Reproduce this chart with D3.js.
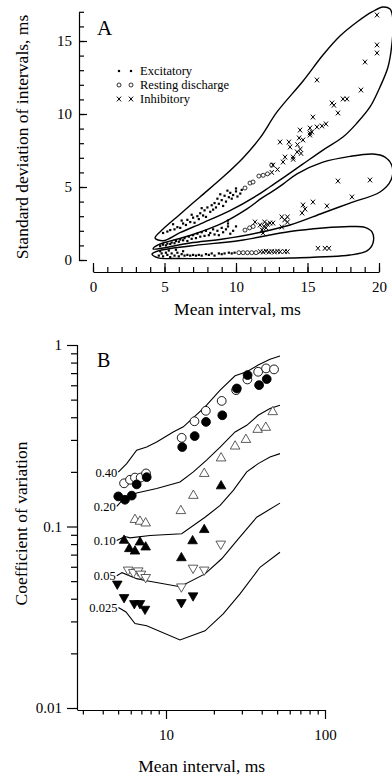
<!DOCTYPE html>
<html><head><meta charset="utf-8">
<script src="https://cdn.jsdelivr.net/npm/d3@7"></script>
<style>
html,body{margin:0;padding:0;background:#fff;}
svg{display:block;}
text{font-family:"Liberation Serif","Times New Roman",serif;fill:#000;}
</style></head><body>
<svg id="chart" width="392" height="781"></svg>
<script>
// ---------- Panel A data (mean interval ms, SD ms) ----------
const xTicksA = [0, 5, 10, 15, 20];
const yTicksA = [0, 5, 10, 15];
const legendLabels = ["Excitatory", "Resting discharge", "Inhibitory"];

const envelope1 = [[4.34,1.51],[4.90,2.12],[5.87,2.95],[7.48,4.32],[9.09,5.68],[10.49,6.99],[11.68,8.36],[12.87,10.14],[14.69,12.26],[16.08,14.04],[17.27,15.34],[18.46,16.30],[19.51,16.99],[20.28,17.33],[20.77,17.19],[20.98,16.44],[20.91,14.86],[20.63,13.22],[20.07,11.85],[19.37,10.48],[18.46,9.38],[17.48,8.42],[16.08,7.53],[14.69,6.58],[13.29,5.62],[12.38,5.02],[11.47,4.42],[9.58,3.38],[7.69,2.55],[6.08,1.87],[4.90,1.32]];
const envelope2 = [[4.20,0.75],[4.55,1.03],[6.78,1.68],[9.09,2.55],[10.77,3.50],[11.82,4.25],[12.52,4.68],[13.29,5.20],[14.27,5.90],[16.08,6.70],[17.97,7.10],[19.58,7.26],[20.42,7.05],[20.91,6.44],[20.84,5.48],[20.07,4.66],[17.97,3.90],[16.08,3.22],[13.78,2.40],[11.47,1.85],[9.09,1.44],[6.78,1.16],[4.90,0.82]];
const envelope3 = [[4.13,0.41],[4.55,0.62],[6.78,0.96],[10.28,1.34],[13.78,1.95],[16.08,2.19],[17.97,2.29],[19.02,2.24],[19.51,1.92],[19.58,1.16],[19.16,0.62],[17.97,0.34],[13.78,0.14],[9.09,0.10],[5.59,0.10],[4.55,0.14]];

const excitatory = [
 [4.9,1.85],[5.2,1.95],[5.4,2.05],[5.7,2.1],[5.9,2.25],[6.1,2.2],[6.3,2.5],[6.5,2.4],[6.6,2.75],[6.8,2.6],[7.0,2.9],[7.1,2.55],[7.3,3.0],[7.4,2.8],[7.5,3.2],[7.7,3.05],[7.8,3.4],[7.9,2.95],[8.0,3.6],[8.2,3.3],[8.3,3.75],[8.4,3.45],[8.5,3.9],[8.6,3.6],[8.7,4.2],[8.8,3.85],[9.0,4.1],[9.1,3.7],[9.2,4.4],[9.3,4.0],[9.5,4.3],[9.6,4.6],[9.7,4.2],[9.8,4.45],[10.0,4.7],[10.1,4.35],[10.3,4.55],[10.4,4.8],[10.0,4.9],[9.4,4.75],[8.9,4.5],[7.6,3.55],[6.9,3.1],[6.2,2.7],[5.6,2.45],
 [4.7,0.95],[4.9,1.05],[5.1,1.0],[5.2,1.12],[5.4,1.1],[5.5,1.2],[5.7,1.15],[5.8,1.3],[6.0,1.25],[6.1,1.4],[6.3,1.35],[6.4,1.5],[6.6,1.3],[6.7,1.6],[6.9,1.45],[7.0,1.7],[7.2,1.5],[7.3,1.8],[7.5,1.6],[7.6,1.9],[7.8,1.65],[7.9,2.0],[8.1,1.7],[8.2,1.85],[8.4,2.1],[8.5,1.75],[8.7,2.0],[8.8,1.7],[9.0,2.2],[9.1,1.9],[9.3,2.1],[9.44,2.3],[9.44,2.5],[9.44,2.7],[9.6,1.8],[9.8,2.0],[10.0,2.3],
 [4.6,0.3],[4.8,0.45],[4.9,0.25],[5.1,0.5],[5.2,0.35],[5.4,0.2],[5.5,0.45],[5.7,0.3],[5.9,0.5],[6.0,0.25],[6.2,0.4],[6.4,0.3],[6.6,0.35],[6.8,0.3],[7.0,0.35],[7.2,0.3],[7.4,0.35],[7.6,0.3],[7.9,0.4],[8.1,0.35],[8.3,0.45],[8.5,0.3],[8.8,0.45],[9.0,0.4],[9.2,0.45],[9.5,0.5],[9.7,0.45],[9.9,0.5],[4.7,0.6],[5.3,0.65],[5.8,0.7],[6.3,0.6]
];
const resting = [
 [10.63,4.93],[10.98,5.27],[11.19,5.34],[11.6,5.75],[11.9,5.8],[12.2,5.9],[12.5,6.5],
 [10.63,2.05],[10.95,2.2],[11.2,2.3],
 [10.2,0.5],[10.5,0.5],[10.8,0.5],[11.1,0.5],[11.4,0.5]
];
const inhibitory = [
 [19.86,16.78],[19.86,14.73],[19.86,14.18],[19.02,13.56],[15.66,12.33],[18.74,11.64],[17.48,11.03],[17.76,11.03],[16.71,10.75],[16.85,10.6],[17.13,10.07],[15.38,9.79],[14.48,8.90],[15.17,9.04],[15.66,9.11],[16.01,9.18],[16.29,9.32],[14.41,8.36],[15.17,8.70],[15.31,8.77],[15.17,8.56],[14.69,8.22],[13.08,8.08],[13.7,8.08],[13.78,7.74],[14.3,7.9],[14.5,7.6],[14.27,7.40],[14.55,7.3],[13.99,7.05],[13.43,7.05],[13.29,6.71],[14.0,6.9],[12.59,6.50],[12.5,6.0],[12.9,6.2],
 [11.33,2.6],[11.68,2.4],[11.82,2.05],[11.95,2.3],[12.1,2.2],[12.2,2.45],[12.38,2.53],[12.59,2.53],[11.89,1.85],[12.0,2.6],[13.2,2.95],[13.6,2.95],[13.6,2.6],[13.2,2.26],[13.4,2.75],[14.69,3.77],[14.83,3.49],[14.62,3.22],[15.38,3.97],[16.36,3.70],[17.13,5.41],[18.11,4.32],[19.37,5.48],
 [11.7,0.57],[11.9,0.55],[12.1,0.6],[12.3,0.55],[12.5,0.58],[12.7,0.55],[12.9,0.6],[13.1,0.57],[13.4,0.58],[13.6,0.57],[15.73,0.8],[16.22,0.8],[16.5,0.8]
];

// ---------- Panel B data (mean interval ms, coefficient of variation) ----------
const xTicksB = [10, 100];
const yTicksB = [0.01, 0.1, 1];
const curveLabelsB = ["0.40", "0.20", "0.10", "0.05", "0.025"];
const curveB040 = [[5.01,0.1995],[5.66,0.222],[6.54,0.263],[7.56,0.274],[8.74,0.292],[11.1,0.332],[12.85,0.354],[14.86,0.398],[17.6,0.456],[21.9,0.564],[27.2,0.677],[32.2,0.712],[38.0,0.775],[45.1,0.834],[52.1,0.87]];
const curveB020 = [[4.9,0.129],[5.37,0.141],[6.54,0.153],[8.74,0.162],[12.25,0.176],[14.86,0.2],[18.0,0.232],[21.9,0.274],[27.2,0.332],[32.2,0.361],[38.0,0.41],[45.1,0.447],[52.1,0.466]];
const curveB010 = [[4.9,0.0837],[5.52,0.088],[5.94,0.0866],[7.93,0.0892],[12.55,0.0912],[17.6,0.1125],[21.9,0.1306],[26.5,0.158],[32.2,0.2],[38.0,0.222],[45.1,0.2415],[52.1,0.252]];
const curveB005 = [[4.9,0.0536],[5.29,0.0557],[6.54,0.0516],[7.56,0.0503],[12.25,0.0466],[17.6,0.0548],[22.4,0.0664],[28.5,0.0855],[37.2,0.1125],[52.1,0.1345]];
const curveB0025 = [[5.02,0.0358],[5.6,0.0338],[6.38,0.0292],[7.56,0.0284],[12.25,0.0237],[17.6,0.0266],[22.9,0.033],[29.2,0.0425],[39.0,0.0596],[52.1,0.0721]];
const curvesB = [curveB040, curveB020, curveB010, curveB005, curveB0025];

const bOpenCircles = [[5.45,0.173],[5.94,0.181],[6.38,0.186],[6.93,0.186],[7.49,0.196],[12.55,0.308],[15.1,0.38],[17.8,0.434],[22.4,0.492],[27.6,0.564],[32.5,0.646],[38.0,0.712],[42.6,0.743],[47.8,0.734]];
const bFilledCircles = [[5.01,0.1465],[5.52,0.1404],[6.09,0.148],[6.54,0.1706],[7.56,0.187],[12.65,0.274],[15.15,0.315],[17.85,0.377],[22.6,0.41],[27.9,0.576],[32.6,0.683],[38.5,0.601],[43.0,0.649]];
const bOpenUp = [[6.38,0.109],[6.86,0.1066],[7.45,0.1043],[12.4,0.122],[14.86,0.148],[17.4,0.1955],[22.2,0.238],[27.2,0.2767],[31.8,0.301],[37.7,0.342],[42.4,0.351],[46.9,0.428]];
const bFilledUp = [[5.45,0.0837],[5.88,0.0753],[6.38,0.073],[6.86,0.0819],[7.45,0.0769],[12.5,0.0671],[14.7,0.0832],[17.4,0.0959],[22.2,0.167]];
const bOpenDown = [[5.78,0.0577],[6.23,0.0559],[6.69,0.0571],[6.96,0.0548],[7.45,0.0525],[12.5,0.0466],[14.8,0.0591],[17.4,0.0577],[22.1,0.0802]];
const bFilledDown = [[4.94,0.0483],[5.45,0.0407],[6.32,0.0377],[6.86,0.0377],[7.38,0.0351],[12.5,0.0382],[14.8,0.0416]];

// ---------- drawing ----------
const svg = d3.select("#chart");
const FONT = '"Liberation Serif","Times New Roman",serif';

function styleAxis(g, size) {
  g.attr("font-family", FONT).attr("font-size", size);
  g.selectAll("path,line").attr("stroke", "#000").attr("stroke-width", 1.2);
}

// ===== Panel A =====
const xA = d3.scaleLinear().domain([0, 20]).range([93, 379]);
const yA = d3.scaleLinear().domain([0, 17]).range([260, 11.8]);
const gA = svg.append("g");

gA.append("g").attr("transform", "translate(0,272)")
  .call(d3.axisBottom(xA).tickValues(d3.range(0, 21, 1)).tickSize(-5).tickSizeOuter(0).tickFormat(""))
  .call(g => styleAxis(g, 15));
gA.append("g").attr("transform", "translate(0,272)")
  .call(d3.axisBottom(xA).tickValues(xTicksA).tickSize(-9).tickPadding(9.5).tickFormat(d3.format("d")))
  .call(g => g.select(".domain").remove())
  .call(g => styleAxis(g, 15));

gA.append("g").attr("transform", "translate(79,0)")
  .call(d3.axisLeft(yA).tickValues(d3.range(0, 18, 1)).tickSize(-5).tickSizeOuter(0).tickFormat(""))
  .call(g => styleAxis(g, 15));
gA.append("g").attr("transform", "translate(79,0)")
  .call(d3.axisLeft(yA).tickValues(yTicksA).tickSize(-8).tickPadding(7).tickFormat(d3.format("d")))
  .call(g => g.select(".domain").remove())
  .call(g => styleAxis(g, 15));

const envLine = d3.line().x(d => xA(d[0])).y(d => yA(d[1])).curve(d3.curveCatmullRomClosed.alpha(0.5));
[envelope1, envelope2, envelope3].forEach(e =>
  gA.append("path").attr("d", envLine(e)).attr("fill", "none").attr("stroke", "#000").attr("stroke-width", 1.4));

const xMark = "M-2.1,-2.4L2.1,2.4M2.1,-2.4L-2.1,2.4";
function drawA(g, type, x, y) {
  if (type === 0) g.append("rect").attr("x", x - 1.1).attr("y", y - 1.1).attr("width", 2.2).attr("height", 2.2).attr("fill", "#000");
  else if (type === 1) g.append("circle").attr("cx", x).attr("cy", y).attr("r", 2).attr("fill", "#fff").attr("stroke", "#000").attr("stroke-width", 0.8);
  else g.append("path").attr("d", xMark).attr("transform", `translate(${x},${y})`).attr("stroke", "#000").attr("stroke-width", 1).attr("fill", "none");
}
const pA = gA.append("g");
excitatory.forEach(d => drawA(pA, 0, xA(d[0]), yA(d[1])));
resting.forEach(d => drawA(pA, 1, xA(d[0]), yA(d[1])));
inhibitory.forEach(d => drawA(pA, 2, xA(d[0]), yA(d[1])));

legendLabels.forEach((lab, i) => {
  const cy = 71 + i * 14;
  drawA(gA, i, 119, cy);
  drawA(gA, i, 131, cy);
  gA.append("text").attr("x", 140).attr("y", cy + 4).attr("font-size", 12.5).text(lab);
});

gA.append("text").attr("x", 97).attr("y", 35).attr("font-size", 21).text("A");
gA.append("text").attr("x", 237.5).attr("y", 315).attr("text-anchor", "middle").attr("font-size", 17.5).text("Mean interval, ms");
gA.append("text").attr("transform", "translate(28,137) rotate(-90)").attr("text-anchor", "middle").attr("font-size", 17.5).text("Standard deviation of intervals, ms");

// ===== Panel B =====
const xB = d3.scaleLog().domain([2.756, 100]).range([77, 325]);
const yB = d3.scaleLog().domain([0.01, 1]).range([708, 345]);
const gB = svg.append("g");

const minorX = [3,4,5,6,7,8,9,20,30,40,50,60,70,80,90];
const minorY = [0.02,0.03,0.04,0.05,0.06,0.07,0.08,0.09,0.2,0.3,0.4,0.5,0.6,0.7,0.8,0.9];

gB.append("g").attr("transform", "translate(0,710)")
  .call(d3.axisBottom(xB).tickValues(minorX).tickSize(4.5).tickSizeOuter(0).tickFormat(""))
  .call(g => styleAxis(g, 15));
gB.append("g").attr("transform", "translate(0,710)")
  .call(d3.axisBottom(xB).tickValues(xTicksB).tickSize(9).tickPadding(10).tickFormat(d3.format("d")))
  .call(g => g.select(".domain").remove())
  .call(g => styleAxis(g, 15));

gB.append("g").attr("transform", "translate(77,0)")
  .call(d3.axisLeft(yB).tickValues(minorY).tickSize(6).tickSizeOuter(0).tickFormat(""))
  .call(g => g.select(".domain").attr("d", `M0.5,${yB(1)}V710`))
  .call(g => styleAxis(g, 15));
gB.append("g").attr("transform", "translate(77,0)")
  .call(d3.axisLeft(yB).tickValues(yTicksB).tickSize(10).tickPadding(5).tickFormat(d => d === 1 ? "1" : String(d)))
  .call(g => g.select(".domain").remove())
  .call(g => styleAxis(g, 15));

const lineB = d3.line().x(d => xB(d[0])).y(d => yB(d[1]));
curvesB.forEach((c, i) => {
  gB.append("path").attr("d", lineB(c)).attr("fill", "none").attr("stroke", "#000").attr("stroke-width", 1.1);
  gB.append("text").attr("x", xB(c[0][0]) - 1).attr("y", yB(c[0][1]) + 4.5)
    .attr("text-anchor", "end").attr("font-size", 12.5).text(curveLabelsB[i]);
});

const triUp = d3.symbol().type(d3.symbolTriangle).size(40)();
function circlesB(data, filled) {
  gB.append("g").selectAll("circle").data(data).join("circle")
    .attr("cx", d => xB(d[0])).attr("cy", d => yB(d[1])).attr("r", 4.4)
    .attr("fill", filled ? "#000" : "#fff").attr("stroke", "#000").attr("stroke-width", 0.9);
}
function trianglesB(data, filled, down) {
  gB.append("g").selectAll("path").data(data).join("path")
    .attr("d", triUp)
    .attr("transform", d => `translate(${xB(d[0])},${yB(d[1])})${down ? " rotate(180)" : ""}`)
    .attr("fill", filled ? "#000" : "#fff").attr("stroke", filled ? "#000" : "#333").attr("stroke-width", 0.8);
}
circlesB(bOpenCircles, false);
circlesB(bFilledCircles, true);
trianglesB(bOpenUp, false, false);
trianglesB(bFilledUp, true, false);
trianglesB(bOpenDown, false, true);
trianglesB(bFilledDown, true, true);

gB.append("text").attr("x", 97).attr("y", 367).attr("font-size", 20).text("B");
gB.append("text").attr("x", 201.7).attr("y", 772).attr("text-anchor", "middle").attr("font-size", 17.5).text("Mean interval, ms");
gB.append("text").attr("transform", "translate(27,523.5) rotate(-90)").attr("text-anchor", "middle").attr("font-size", 17.5).text("Coefficient of variation");
</script>
</body></html>
